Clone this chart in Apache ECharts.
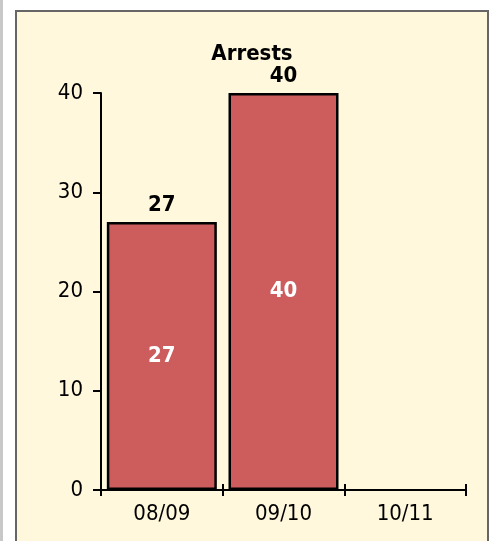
<!DOCTYPE html>
<html>
<head>
<meta charset="utf-8">
<script src="https://cdn.jsdelivr.net/npm/echarts@6/dist/echarts.min.js"></script>
<style>
  html, body { margin: 0; padding: 0; background: #fff; overflow: hidden; }
  #strip { position: absolute; left: 0; top: 0; width: 3px; height: 541px; background: #c8c8c8; }
  #main {
    position: absolute; left: 15px; top: 10px;
    width: 470px; height: 529px;
    border: 2px solid #666; border-bottom: none;
    background: #fff8dc;
  }
</style>
</head>
<body>
<div id="strip"></div>
<div id="main"></div>
<script>
var categories = ['08/09', '09/10', '10/11'];
var arrests = [27, 40, null];
var yTicks = { min: 0, max: 40, interval: 10 };

var chartDom = document.getElementById('main');
var myChart = echarts.init(chartDom);
var option;

var font = 'DejaVu Sans Condensed, DejaVu Sans, sans-serif';

option = {
    backgroundColor: '#fff8dc',
    animation: false,
    title: {
        text: 'Arrests',
        left: 'center',
        top: 26,
        textStyle: {
            fontFamily: font,
            fontSize: 22,
            fontWeight: 'bold',
            color: '#000'
        }
    },
    grid: {
        left: 84,
        right: 21,
        top: 81,
        bottom: 51
    },
    xAxis: [
        {
            type: 'category',
            data: categories,
            axisLine: { lineStyle: { color: '#000', width: 2 } },
            axisTick: { show: true, length: 6, lineStyle: { color: '#000', width: 2 } },
            axisLabel: {
                margin: 13,
                fontFamily: font,
                fontSize: 22,
                color: '#000'
            }
        },
        {
            // second axis only to draw the upward half of the ticks
            type: 'category',
            data: categories,
            position: 'bottom',
            axisLine: { show: false },
            axisTick: { show: true, inside: true, length: 6, lineStyle: { color: '#000', width: 2 } },
            axisLabel: { show: false }
        }
    ],
    yAxis: {
        type: 'value',
        min: yTicks.min,
        max: yTicks.max,
        interval: yTicks.interval,
        splitLine: { show: false },
        axisLine: { show: true, lineStyle: { color: '#000', width: 2 } },
        axisTick: { show: true, length: 8, lineStyle: { color: '#000', width: 2 } },
        axisLabel: {
            margin: 18,
            fontFamily: font,
            fontSize: 22,
            color: '#000'
        }
    },
    series: [
        {
            name: 'Arrests',
            type: 'bar',
            barWidth: 110,
            data: arrests,
            itemStyle: {
                color: '#cd5c5c',
                borderColor: '#000',
                borderWidth: 2.5
            },
            label: {
                show: true,
                position: 'inside',
                color: '#fff',
                fontFamily: font,
                fontSize: 22,
                fontWeight: 'bold'
            }
        },
        {
            name: 'ArrestsTop',
            type: 'bar',
            barWidth: 110,
            barGap: '-100%',
            silent: true,
            data: arrests,
            itemStyle: {
                color: 'transparent',
                borderWidth: 0
            },
            label: {
                show: true,
                position: 'top',
                distance: 6,
                color: '#000',
                fontFamily: font,
                fontSize: 22,
                fontWeight: 'bold'
            }
        }
    ]
};

option && myChart.setOption(option);
</script>
</body>
</html>
